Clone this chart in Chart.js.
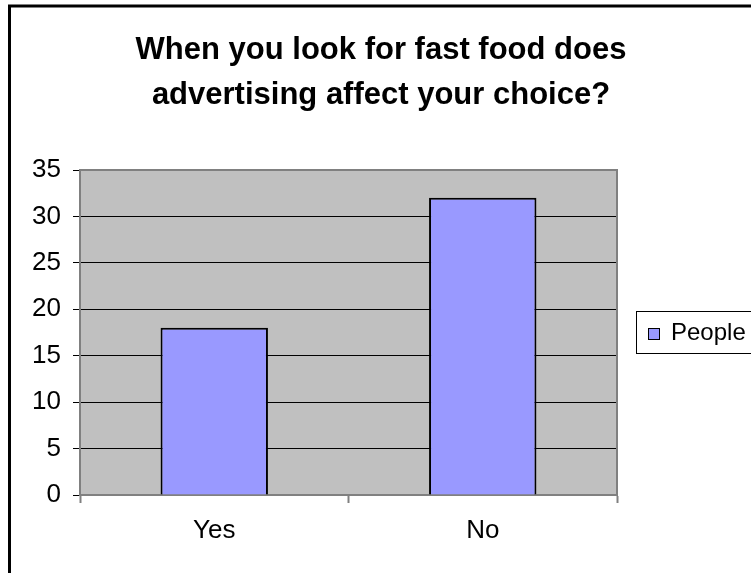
<!DOCTYPE html>
<html>
<head>
<meta charset="utf-8">
<script src="https://cdn.jsdelivr.net/npm/chart.js@4/dist/chart.umd.min.js"></script>
<style>
  html, body { margin: 0; padding: 0; background: #fff; }
  #wrap { width: 751px; height: 573px; }
</style>
</head>
<body>
<div id="wrap"><canvas id="adChart" width="751" height="573"></canvas></div>
<script>
// 설문 결과
var categories = ['Yes', 'No'];
var seriesName = 'People';
var people = [18, 32];
var titleLines = ['When you look for fast food does', 'advertising affect your choice?'];

var FONT = "'Liberation Sans', Arial, sans-serif";

// 회색 플롯 영역, 제목, 범례, 바깥 테두리
var plotArea = {
    id: 'plotArea',
    beforeDraw: function(chart) {
        var ctx = chart.ctx, a = chart.chartArea;
        ctx.save();
        ctx.fillStyle = '#fff';
        ctx.fillRect(0, 0, chart.width, chart.height);
        ctx.fillStyle = '#C0C0C0';
        ctx.fillRect(a.left, a.top, a.right - a.left, a.bottom - a.top);
        ctx.restore();
    },
    afterDraw: function(chart) {
        var ctx = chart.ctx, a = chart.chartArea;
        ctx.save();
        ctx.strokeStyle = '#808080';
        ctx.lineWidth = 2;
        ctx.beginPath();
        ctx.moveTo(a.left, a.top);
        ctx.lineTo(a.right, a.top);
        ctx.lineTo(a.right, a.bottom);
        ctx.stroke();

        // 제목 (캔버스 전체 기준 가운데)
        ctx.fillStyle = '#000';
        ctx.font = 'bold 31px ' + FONT;
        ctx.textAlign = 'center';
        ctx.textBaseline = 'middle';
        titleLines.forEach(function(line, i) {
            ctx.fillText(line, 381, 50 + i * 45);
        });

        // 바깥 테두리
        ctx.strokeStyle = '#000';
        ctx.lineWidth = 3;
        ctx.strokeRect(9.5, 6, chart.width + 20, chart.height + 20);

        // 범례 상자
        var ds = chart.data.datasets[0];
        var bx = 636, by = 311, bh = 42;
        ctx.lineWidth = 1;
        ctx.strokeRect(bx + 0.5, by + 0.5, chart.width, bh);
        ctx.fillStyle = ds.backgroundColor;
        ctx.fillRect(648, 328, 12, 12);
        ctx.strokeRect(648.5, 328.5, 11, 11);
        ctx.fillStyle = '#000';
        ctx.font = '24px ' + FONT;
        ctx.textAlign = 'left';
        ctx.fillText(ds.label, 671, by + bh / 2 + 1);
        ctx.restore();
    }
};

new Chart(document.getElementById('adChart').getContext('2d'), {
    type: 'bar',
    data: {
        labels: categories,
        datasets: [{
            label: seriesName,
            data: people,
            backgroundColor: '#9999FF',
            borderColor: '#000',
            borderWidth: 2,
            barPercentage: 0.4,
            categoryPercentage: 1
        }]
    },
    options: {
        responsive: false,
        animation: false,
        devicePixelRatio: 1,
        layout: { padding: { top: 170, left: 0, right: 134, bottom: 0 } },
        scales: {
            x: {
                offset: true,
                afterFit: function(scale) { scale.height = 78; },
                border: { color: '#808080', width: 2 },
                grid: {
                    offset: true,
                    drawOnChartArea: false,
                    drawTicks: true,
                    tickLength: 8,
                    tickColor: '#808080',
                    tickWidth: 2
                },
                ticks: {
                    color: '#000',
                    padding: 12,
                    font: { family: FONT, size: 26 }
                }
            },
            y: {
                min: 0,
                max: 35,
                afterFit: function(scale) { scale.width = 80; },
                border: { color: '#808080', width: 2 },
                grid: {
                    color: function(c) {
                        return (c.index === 0 || c.index === 7) ? '#808080' : '#000';
                    },
                    lineWidth: 1,
                    drawTicks: true,
                    tickLength: 7,
                    tickColor: '#000'
                },
                ticks: {
                    stepSize: 5,
                    color: '#000',
                    padding: 12,
                    font: { family: FONT, size: 26 }
                }
            }
        },
        plugins: {
            legend: { display: false },
            tooltip: { enabled: false },
            title: { display: false }
        }
    },
    plugins: [plotArea]
});
</script>
</body>
</html>
